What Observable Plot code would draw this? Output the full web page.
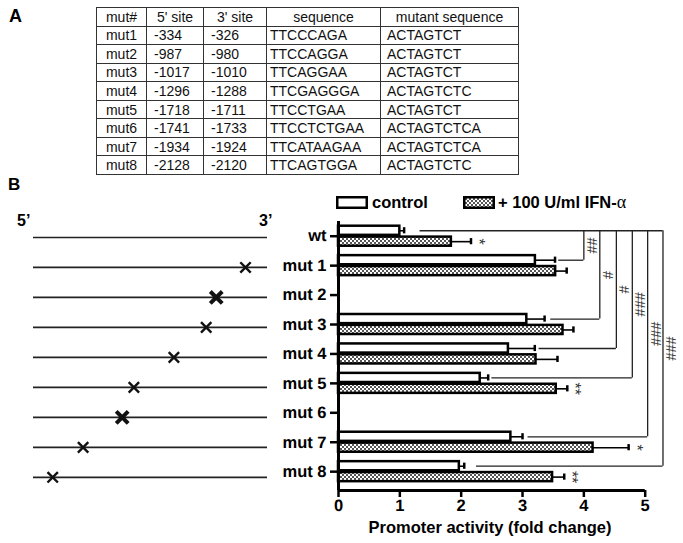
<!DOCTYPE html>
<html>
<head>
<meta charset="utf-8">
<script src="https://cdn.jsdelivr.net/npm/d3@7"></script>
<script src="https://cdn.jsdelivr.net/npm/@observablehq/plot@0.6"></script>
<style>
  html, body { margin: 0; padding: 0; background: white; }
  #fig { position: relative; width: 683px; height: 543px; overflow: hidden; font-family: "Liberation Sans", Arial, sans-serif; color: #000; }
  .abs { position: absolute; white-space: nowrap; }
  .panel { font-weight: bold; }
  #tbl { position: absolute; left: 96px; top: 7px; border-collapse: collapse; table-layout: fixed; font-size: 14px; color: #111; }
  #tbl td { border: 1.5px solid #333; height: 17px; padding: 0; line-height: 16px; box-sizing: border-box; overflow: hidden; white-space: nowrap; }
  #tbl tr.head td { text-align: center; }
  #tbl tr:not(.head) td:nth-child(1) { text-align: center; }
  #tbl tr:not(.head) td:nth-child(2), #tbl tr:not(.head) td:nth-child(3) { padding-left: 7px; }
  #tbl tr:not(.head) td:nth-child(4) { padding-left: 3px; }
  #tbl tr:not(.head) td:nth-child(5) { padding-left: 6px; }
  .plotbox { position: absolute; left: 0; top: 0; }
  #chart [aria-label^="y-axis"] line, #chart [aria-label^="y-axis"] path,
  #chart [aria-label^="x-axis"] line, #chart [aria-label^="x-axis"] path { stroke-width: 2.5px; }
  #chart text { text-rendering: geometricPrecision; }
</style>
</head>
<body>
<svg width="0" height="0" style="position:absolute">
  <defs>
    <pattern id="checker" width="4" height="4" patternUnits="userSpaceOnUse">
      <rect width="4" height="4" fill="#ffffff"/>
      <rect width="2" height="2" fill="#555555"/>
      <rect x="2" y="2" width="2" height="2" fill="#555555"/>
    </pattern>
  </defs>
</svg>
<div id="fig">
  <div class="abs panel" style="left:9px; top:7px; font-size:18px; line-height:18px;">A</div>
  <table id="tbl"></table>
  <div class="abs panel" style="left:8px; top:176px; font-size:17px; line-height:17px;">B</div>
  <div class="abs panel" style="left:17px; top:213px; font-size:16px; line-height:16px;">5’</div>
  <div class="abs panel" style="left:259px; top:213px; font-size:16px; line-height:16px;">3’</div>
  <div id="diagram" class="plotbox"></div>
  <div id="chart" class="plotbox"></div>
  <svg class="abs" style="left:336px; top:196px;" width="33" height="13"><rect x="1.25" y="1.25" width="29.5" height="10.5" fill="#fff" stroke="#000" stroke-width="2.5"/></svg>
  <div class="abs" id="legC" style="left:372px; top:192px; font-size:16.5px; line-height:20px; font-weight:bold;"></div>
  <svg class="abs" style="left:463px; top:196px;" width="33" height="13"><rect x="1.25" y="1.25" width="29.5" height="10.5" fill="url(#checker)" stroke="#000" stroke-width="2.5"/></svg>
  <div class="abs" id="legI" style="left:498px; top:192px; font-size:16.5px; line-height:20px; font-weight:bold;"></div>
  <div class="abs" id="xlabel" style="left:340px; width:300px; top:517px; text-align:center; font-size:16.5px; line-height:20px; font-weight:bold;"></div>
</div>
<script>
// ---------- Panel A: table data ----------
const tableHeader = ["mut#", "5' site", "3' site", "sequence", "mutant sequence"];
const mutNames = ["mut1", "mut2", "mut3", "mut4", "mut5", "mut6", "mut7", "mut8"];
const site5 = [-334, -987, -1017, -1296, -1718, -1741, -1934, -2128];
const site3 = [-326, -980, -1010, -1288, -1711, -1733, -1924, -2120];
const wtSeq = ["TTCCCAGA", "TTCCAGGA", "TTCAGGAA", "TTCGAGGGA", "TTCCTGAA", "TTCCTCTGAA", "TTCATAAGAA", "TTCAGTGGA"];
const mutSeq = ["ACTAGTCT", "ACTAGTCT", "ACTAGTCT", "ACTAGTCTC", "ACTAGTCT", "ACTAGTCTCA", "ACTAGTCTCA", "ACTAGTCTC"];

// ---------- Panel B: chart data ----------
const categories = ["wt", "mut 1", "mut 2", "mut 3", "mut 4", "mut 5", "mut 6", "mut 7", "mut 8"];
const control    = [1.00, 3.21, null, 3.07, 2.77, 2.31, null, 2.81, 1.97];
const controlErr = [0.07, 0.32, null, 0.29, 0.43, 0.13, null, 0.19, 0.08];
const ifn        = [1.84, 3.54, null, 3.66, 3.22, 3.55, null, 4.15, 3.49];
const ifnErr     = [0.32, 0.18, null, 0.17, 0.35, 0.18, null, 0.58, 0.19];
const ifnStars   = ["*", "", "", "", "", "**", "", "*", "**"];
const bracketTargets = ["mut 1", "mut 3", "mut 4", "mut 5", "mut 7", "mut 8"];
const bracketX       = [4.00, 4.26, 4.53, 4.79, 5.04, 5.29];
const bracketStart   = [3.59, 3.46, 3.27, 2.50, 3.09, 2.25];
const bracketLabels  = ["##", "#", "#", "###", "###", "###"];
const bracketTopStart = 1.33;
// schematic relative position of each mutated site along the promoter (5' = 0, 3' = 1)
const sitePos = [null, 0.906, 0.781, 0.738, 0.600, 0.429, 0.379, 0.212, 0.082];
const xTicks = [0, 1, 2, 3, 4, 5];
const legendControl = "control";
const legendIFN = "+ 100 U/ml IFN-";
const legendIFNGreek = "α";
const xTitle = "Promoter activity (fold change)";

// ---------- build table ----------
const tbl = document.getElementById("tbl");
const colW = [50, 57, 63, 114, 138];
const cg = document.createElement("colgroup");
colW.forEach(w => { const c = document.createElement("col"); c.style.width = w + "px"; cg.appendChild(c); });
tbl.appendChild(cg);
function addRow(cells, cls) {
  const tr = document.createElement("tr");
  if (cls) tr.className = cls;
  cells.forEach(v => { const td = document.createElement("td"); td.textContent = v; tr.appendChild(td); });
  tr.style.height = "18.55px";
  tbl.appendChild(tr);
}
addRow(tableHeader, "head");
mutNames.forEach((m, k) => addRow([m, site5[k], site3[k], wtSeq[k], mutSeq[k]]));

// ---------- legend & labels ----------
document.getElementById("legC").textContent = legendControl;
const legI = document.getElementById("legI");
legI.textContent = legendIFN;
const g = document.createElement("span");
g.textContent = legendIFNGreek;
g.style.fontFamily = "'Liberation Serif', 'DejaVu Serif', serif";
g.style.fontWeight = "normal";
g.style.fontSize = "18px";
legI.appendChild(g);
document.getElementById("xlabel").textContent = xTitle;

// ---------- chart ----------
const rows = categories.map((c, i) => ({i, c, control: control[i], cErr: controlErr[i], ifn: ifn[i], iErr: ifnErr[i], star: ifnStars[i]}))
  .filter(d => d.control != null);
const brackets = bracketTargets.map((t, k) => ({i: categories.indexOf(t), x: bracketX[k], x0: bracketStart[k], label: bracketLabels[k]}));

const yMax = 8.64;               // bottom of the frame (category units)
const cTop = -0.34, cBot = -0.03, iTop = 0.03, iBot = 0.34;
const cMid = (cTop + cBot) / 2, iMid = (iTop + iBot) / 2;

const chart = Plot.plot({
  width: 683, height: 543,
  marginLeft: 338, marginRight: 1.5, marginTop: 221, marginBottom: 53,
  style: {background: "transparent", fontFamily: "'Liberation Sans', Arial, sans-serif", fontSize: "16.5px", fontWeight: "bold", color: "black", overflow: "visible"},
  x: {domain: [0, 5.6], ticks: xTicks, tickFormat: d => String(d), tickSize: 7, tickPadding: 2, label: null},
  y: {domain: [yMax, -0.5], ticks: categories.map((c, i) => i), tickFormat: i => categories[i], tickSize: 8, tickPadding: 4, label: null},
  marks: [
    // significance brackets
    Plot.ruleY([0], {y: d => d + cMid, x1: () => bracketTopStart, x2: () => d3.max(bracketX), stroke: "#222", strokeWidth: 1.3}),
    Plot.ruleX(brackets, {x: "x", y1: () => cMid, y2: d => d.i + cMid, stroke: "#222", strokeWidth: 1.3}),
    Plot.ruleY(brackets, {y: d => d.i + cMid, x1: "x0", x2: "x", stroke: "#222", strokeWidth: 1.3}),
    Plot.text(brackets, {x: "x", y: d => d.i / 2 + cMid, text: "label", rotate: 90, dx: 7.5, fontSize: 14.5, fontWeight: "normal", fill: "#333"}),
    // control bars
    Plot.rect(rows, {x1: () => 0, x2: "control", y1: d => d.i + cTop, y2: d => d.i + cBot, fill: "white", stroke: "black", strokeWidth: 2.5}),
    Plot.ruleY(rows, {x1: "control", x2: d => d.control + d.cErr, y: d => d.i + cMid, stroke: "black", strokeWidth: 1.6}),
    Plot.ruleX(rows, {x: d => d.control + d.cErr, y1: d => d.i + cTop + 0.05, y2: d => d.i + cBot - 0.05, stroke: "black", strokeWidth: 2.5}),
    // IFN bars
    Plot.rect(rows, {x1: () => 0, x2: "ifn", y1: d => d.i + iTop, y2: d => d.i + iBot, fill: "url(#checker)", stroke: "black", strokeWidth: 2.5}),
    Plot.ruleY(rows, {x1: "ifn", x2: d => d.ifn + d.iErr, y: d => d.i + iMid, stroke: "black", strokeWidth: 1.6}),
    Plot.ruleX(rows, {x: d => d.ifn + d.iErr, y1: d => d.i + iTop + 0.05, y2: d => d.i + iBot - 0.05, stroke: "black", strokeWidth: 2.5}),
    Plot.text(rows.filter(d => d.star), {x: d => d.ifn + d.iErr, y: d => d.i + iMid, text: "star", rotate: 90, dx: 8, fontSize: 16, fontWeight: "normal", fill: "#333"}),
    // axis lines
    Plot.ruleX([0], {y1: () => -0.5, y2: () => yMax, stroke: "black", strokeWidth: 3}),
    Plot.ruleY([yMax], {x1: () => 0, x2: () => d3.max(xTicks), stroke: "black", strokeWidth: 3})
  ]
});
document.getElementById("chart").appendChild(chart);

// ---------- promoter diagram ----------
const sites = categories.map((c, i) => ({i, pos: sitePos[i], missing: control[i] == null})).filter(d => d.pos != null);
const diagram = Plot.plot({
  width: 300, height: 543,
  marginLeft: 33, marginRight: 33, marginTop: 222, marginBottom: 47,
  style: {background: "transparent", overflow: "visible"},
  x: {domain: [0, 1], axis: null},
  y: {domain: [yMax, -0.5], axis: null},
  marks: [
    Plot.ruleY(categories.map((c, i) => i), {x1: () => 0, x2: () => 1, stroke: "#222", strokeWidth: 1.7}),
    Plot.dot(sites.filter(d => !d.missing), {x: "pos", y: "i", symbol: "times", r: 4.8, stroke: "#111", strokeWidth: 2.4}),
    Plot.dot(sites.filter(d => d.missing), {x: "pos", y: "i", symbol: "times", r: 5.5, stroke: "#111", strokeWidth: 4})
  ]
});
document.getElementById("diagram").appendChild(diagram);
</script>
</body>
</html>
